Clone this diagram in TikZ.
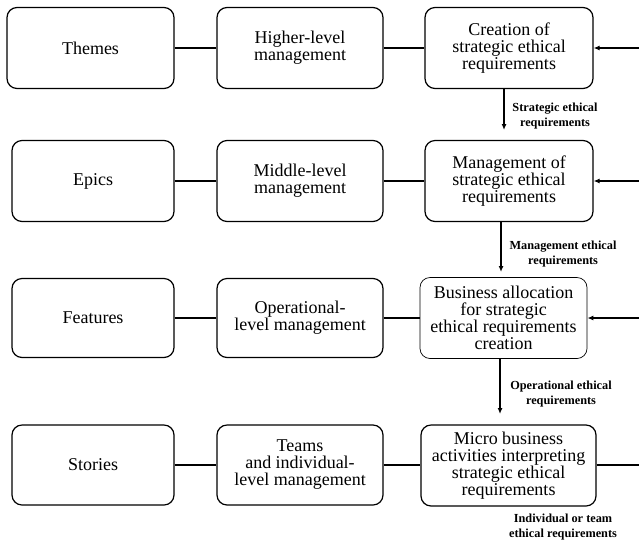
\documentclass[tikz,border=0pt]{standalone}
\usepackage{fontspec}
\setmainfont{Liberation Serif}
\usetikzlibrary{arrows.meta,calc}
\begin{document}
\begin{tikzpicture}[x=1pt,y=-1pt,
  box/.style={draw, rounded corners=10pt, line width=1.2pt, align=center,
    minimum height=81pt, inner sep=1pt,
    font=\fontsize{18}{17}\selectfont},
  thinbox/.style={box, line width=0.7pt},
  conn/.style={line width=1.2pt},
  arr/.style={line width=1.2pt, -{Latex[length=6pt,width=5pt]}},
  lab/.style={font=\bfseries\fontsize{12.3}{14.5}\selectfont, align=center, inner sep=1pt}]
\useasboundingbox (0,0) rectangle (639,542);
% row 1
\node[box, minimum width=167pt] (themes) at (90.5,48) {Themes};
\node[box, minimum width=166pt] (higher) at (300,48) {Higher-level\\management};
\node[box, minimum width=168pt] (creation) at (509,48) {Creation of\\strategic ethical\\requirements};
% row 2
\node[box, minimum width=162pt] (epics) at (93,181) {Epics};
\node[box, minimum width=166pt] (middle) at (300,181) {Middle-level\\management};
\node[box, minimum width=168pt] (manage) at (509,181) {Management of\\strategic ethical\\requirements};
% row 3
\node[box, minimum width=162pt, minimum height=79pt] (features) at (93,318) {Features};
\node[box, minimum width=166pt, minimum height=79pt] (oper) at (300,318) {Operational-\\level management};
\node[thinbox, minimum width=167pt] (business) at (503.5,318) {Business allocation\\for strategic\\ethical requirements\\creation};
% row 4
\node[box, minimum width=162pt, minimum height=80pt] (stories) at (93,465) {Stories};
\node[box, minimum width=166pt, minimum height=80pt] (teams) at (300,465) {Teams\\and individual-\\level management};
\node[box, minimum width=175pt] (micro) at (508.5,465.5) {Micro business\\activities interpreting\\strategic ethical\\requirements};
% horizontal connectors
\draw[conn] (themes) -- (higher);
\draw[conn] (higher) -- (creation);
\draw[conn] (epics) -- (middle);
\draw[conn] (middle) -- (manage);
\draw[conn] (features) -- (oper);
\draw[conn] (oper) -- (business);
\draw[conn] (stories) -- (teams);
\draw[conn] (teams.east) -- (micro.west |- teams.east);
% right side
\coordinate (r1) at (639,48);
\coordinate (r2) at (639,181);
\coordinate (r3) at (639,318);
\coordinate (r4) at (639,465);
\draw[arr] (r1) -- (creation.east |- r1);
\draw[arr] (r2) -- (manage.east |- r2);
\draw[arr] (r3) -- (business.east |- r3);
\draw[conn] (micro.east |- r4) -- (r4);
% vertical arrows
\coordinate (e1) at (504,130);
\coordinate (e2) at (501,272);
\coordinate (e3) at (500,414);
\draw[arr] (creation.south -| e1) -- (e1);
\draw[arr] (manage.south -| e2) -- (e2);
\draw[arr] (business.south -| e3) -- (e3);
% labels
\node[lab] (l1) at (555,116) {Strategic ethical\\requirements};
\node[lab] (l2) at (563,254) {Management ethical\\requirements};
\node[lab] (l3) at (561,394) {Operational ethical\\requirements};
\node[lab] (l4) at (563,527) {Individual or team\\ethical requirements};
\end{tikzpicture}
\end{document}
